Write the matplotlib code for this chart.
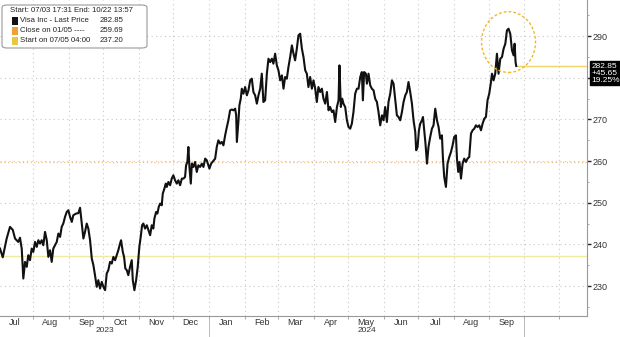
import matplotlib.pyplot as plt
import matplotlib.dates as mdates
from matplotlib.patches import Ellipse, FancyBboxPatch, Rectangle
from matplotlib.transforms import blended_transform_factory
import pandas as pd

plt.rcParams['font.family'] = ['Liberation Sans', 'DejaVu Sans']

# Visa Inc, last price (days since 2023-07-03)
start = pd.Timestamp('2023-07-03')
days = [
    0.0, 2.4, 5.8, 8.7, 11.1, 13.1, 15.9, 17.4, 18.9, 20.3, 21.8, 23.3, 24.6, 26.1, 27.6, 29.0,
    30.5, 32.0, 33.4, 34.8, 36.3, 37.7, 39.2, 40.7, 42.1, 43.6, 45.0, 46.4, 47.9, 49.4, 50.8,
    52.3, 53.7, 55.1, 56.6, 58.1, 59.5, 61.0, 62.5, 63.8, 66.2, 68.2, 69.7, 71.2, 72.6, 74.0,
    75.5, 76.9, 78.4, 79.9, 81.3, 82.7, 84.2, 85.6, 87.1,
    88.6, 90.0, 91.5, 92.9, 94.3, 95.8, 97.3, 98.7, 100.2, 101.6, 103.0, 104.5, 105.4, 106.9,
    108.0, 109.1, 110.4, 111.7, 113.2, 114.7, 115.6, 117.0, 118.5, 119.9, 121.3, 122.5, 123.7,
    124.8, 126.3, 127.8, 129.2, 130.7, 132.1, 133.5, 134.4, 135.9, 137.0, 138.2, 139.4, 140.8,
    141.7, 143.1, 144.3, 145.2, 146.6, 148.1, 149.5, 150.9, 152.4, 153.9, 155.3, 156.8, 158.3,
    159.7, 161.1, 162.0, 163.1, 164.0, 164.9, 166.1, 167.0, 168.4, 169.8, 171.3, 172.7, 174.2,
    175.7, 177.1, 178.6, 180.0, 182.3,
    183.8, 187.3, 188.7, 190.1, 191.6, 193.1, 194.5, 196.0, 197.5, 198.8, 200.3, 201.8, 203.2,
    204.7, 205.6, 206.2, 207.6, 208.4, 209.6, 210.5, 211.9, 213.4, 214.9, 216.3, 217.8, 219.2,
    220.6, 222.1, 223.6, 225.0, 226.5, 227.9, 229.3, 230.8, 232.3, 233.7, 235.2, 236.7, 238.0,
    239.5, 241.0, 242.4, 243.9, 245.4, 246.8, 248.2, 249.7, 251.1, 252.6, 254.1, 255.5, 256.9,
    258.4, 259.8, 261.3, 262.8, 264.2, 265.7, 267.1, 268.5, 270.0, 271.5, 272.9, 274.4, 275.8,
    277.2, 278.7, 280.2, 281.6, 283.1, 284.6, 286.0, 287.4, 288.9, 290.3, 291.8, 293.3, 294.7,
    295.5, 296.7, 297.9, 299.0, 300.5, 302.0, 303.4, 304.9, 306.3, 307.7, 309.2, 310.7, 312.1,
    313.6, 315.0, 315.9, 317.0, 318.5, 319.4, 320.8, 322.3, 323.7, 325.2, 326.6, 328.1, 329.5,
    331.0, 332.5, 333.9, 335.3, 336.8, 338.2, 339.7, 341.2, 342.6, 344.0, 345.5, 346.9, 348.4,
    349.9, 351.3, 352.8, 354.2, 355.6, 357.1, 358.6, 360.0, 361.5, 362.3, 363.5, 364.7, 365.8,
    367.3, 368.2, 369.3, 370.4, 371.7, 373.0, 374.5, 376.0, 377.4, 378.9, 380.4, 381.8, 383.2,
    384.7, 385.6, 386.7, 388.2, 389.6, 391.1, 392.6, 394.0, 395.4, 396.9, 397.8, 398.9, 400.0,
    401.3, 402.7, 404.1, 405.6, 407.0, 408.5, 410.0, 411.4, 412.9, 414.3, 415.7, 417.2, 418.7,
    420.1, 421.6, 423.0, 424.4, 425.9, 427.4, 428.3, 429.7, 431.1, 432.6, 434.0, 435.5, 437.0,
    438.4, 439.9, 441.3, 442.7, 444.2, 445.7, 447.1, 448.0, 448.8, 449.4,
]
price = [
    239.0, 236.9, 241.4, 244.2, 243.5, 241.4, 240.6, 241.6, 239.0, 231.8, 235.8, 234.6, 237.4, 236.2, 239.0, 238.2,
    240.6, 239.4, 241.0, 240.2, 241.0, 239.8, 243.0, 241.0, 237.0, 238.6, 235.8, 239.0, 239.8, 240.6, 242.6,
    241.8, 244.2, 245.0, 246.6, 247.8, 248.2, 246.6, 245.4, 247.0, 247.4, 247.5, 248.8, 245.0, 241.4, 243.0,
    245.0, 243.8, 241.0, 236.6, 235.0, 232.6, 229.8, 231.4, 229.4,
    231.0, 229.8, 229.0, 233.0, 233.8, 235.8, 235.4, 237.0, 236.2, 237.4, 238.6, 240.2, 241.0, 238.2,
    237.0, 234.2, 233.8, 232.6, 234.6, 236.2, 231.4, 229.0, 231.4, 234.6, 239.4, 241.8, 244.6,
    245.0, 243.8, 244.6, 243.4, 242.2, 244.6, 243.8, 246.2, 247.8, 247.4, 249.0, 249.8, 249.4,
    252.2, 253.4, 254.6, 253.8, 255.0, 254.2, 255.8, 256.6, 255.4, 254.6, 255.4, 254.2, 255.8,
    255.8, 256.2, 259.0, 259.8, 263.4, 258.6, 254.6, 259.4, 258.6, 259.8, 257.4, 259.0, 258.6,
    259.4, 258.6, 260.6, 260.2, 258.2,
    259.4, 260.6, 263.4, 265.0, 264.2, 264.6, 263.8, 266.2, 268.2, 269.8, 272.2, 272.4, 272.2,
    272.6, 271.0, 264.6, 269.8, 273.4, 275.0, 277.4, 276.2, 277.8, 275.8, 277.0, 279.4, 279.8,
    276.6, 275.8, 273.8, 275.8, 277.4, 281.0, 274.2, 274.6, 281.0, 284.6, 283.8, 284.6, 283.4,
    285.8, 283.0, 281.8, 279.4, 280.6, 277.4, 280.2, 279.8, 282.6, 285.0, 287.8, 285.8, 284.2,
    287.0, 290.2, 290.6, 287.0, 285.0, 281.8, 281.0, 277.8, 280.2, 277.4, 279.4, 277.4, 274.2,
    277.8, 276.6, 277.4, 275.0, 273.8, 276.6, 272.2, 273.0, 271.8, 272.2, 269.4, 273.0, 274.6,
    283.0, 273.0, 275.0, 273.8, 273.0, 269.8, 268.2, 267.8, 269.0, 271.8, 276.2, 277.4, 277.4,
    280.2, 281.4, 274.6, 281.4, 281.0, 278.6, 281.0, 278.2, 277.4, 277.0, 275.0, 274.2, 271.8,
    268.6, 271.0, 269.8, 273.0, 269.4, 274.2, 276.2, 279.4, 278.6, 275.0, 271.0, 270.6, 269.8,
    271.8, 274.2, 275.8, 276.6, 279.0, 276.6, 273.8, 269.8, 267.0, 262.6, 263.4, 267.4, 269.0,
    269.8, 270.6, 267.4, 264.2, 259.4, 263.4, 265.8, 267.8, 268.6, 272.6, 269.8, 268.2, 265.4,
    266.2, 260.6, 256.2, 253.8, 259.4, 261.0, 262.2, 263.8, 265.8, 266.2, 260.6, 257.4, 259.8,
    255.8, 259.4, 260.6, 259.8, 260.6, 261.0, 266.6, 267.4, 267.8, 268.6, 268.2, 268.6, 267.4,
    269.0, 270.2, 270.6, 274.6, 276.2, 279.0, 281.0, 279.4, 281.0, 285.8, 281.0, 284.6, 285.0,
    287.0, 288.2, 291.4, 291.8, 290.6, 286.6, 285.4, 288.2, 283.8, 282.85,
]
dates = start + pd.to_timedelta(days, unit='D')

last_price = 282.85
close_0105 = 259.69
start_0705 = 237.20
change_abs = '+45.65'
change_pct = '19.25%'

header = 'Start: 07/03 17:31 End: 10/22 13:57'
legend_names = ['Visa Inc - Last Price', 'Close on 01/05 ----', 'Start on 07/05 04:00']
legend_values = [last_price, close_0105, start_0705]
legend_colors = ['#111111', '#f0a030', '#e8c840']

y_ticks = [230, 240, 250, 260, 270, 280, 290]
y_labels = ['230', '240', '250', '260', '270', '', '290']  # 280 sits under the price box
label_months = pd.date_range('2023-07-01', '2024-09-01', freq='MS')
year_breaks = [pd.Timestamp('2024-01-01'), pd.Timestamp('2024-10-01')]

x_left = start
x_right = start + pd.Timedelta(days=511)

fig = plt.figure(figsize=(6.2, 3.37), dpi=100)
ax = fig.add_axes([0.0, 21 / 337, 587 / 620, 316 / 337])

# reference levels
ax.axhline(start_0705, color='#eeeaa0', lw=1.0, zorder=1)
ax.axhline(close_0105, color='#f2bd80', lw=0.9, ls=(0, (1, 2)), zorder=1)
ax.hlines(last_price, dates[-1], x_right, color='#f2d468', lw=1.0, zorder=1)

ax.plot(dates, price, color='#111111', lw=1.5, zorder=3)

# dashed circle around the recent peak
i_max = max(range(len(price)), key=lambda i: price[i])
cx = mdates.date2num(dates[i_max])
ax.add_patch(Ellipse((cx, price[i_max] - 3.2), width=47, height=14.6,
                     fill=False, ec='#f0b828', lw=1.0, ls=(0, (2, 1.5)), zorder=4))

ax.set_xlim(x_left, x_right)
ax.set_ylim(222.8, 298.7)

ax.xaxis.set_major_locator(mdates.MonthLocator())
ax.xaxis.set_major_formatter(plt.NullFormatter())
ax.set_xticks([d + pd.Timedelta(days=15) for d in label_months], minor=True)
ax.set_xticklabels([d.strftime('%b') for d in label_months], minor=True)
ax.tick_params(axis='x', which='major', length=2, color='#999999', width=0.6)
ax.tick_params(axis='x', which='minor', length=0, labelsize=6.5, pad=1.5, labelcolor='#333333')

ax.yaxis.tick_right()
ax.set_yticks(y_ticks)
ax.set_yticklabels(y_labels)
ax.set_yticks(range(225, 296, 5), minor=True)
ax.tick_params(axis='y', which='major', length=3, width=1.0, color='#222222',
               labelsize=6.5, pad=1, labelcolor='#333333')
ax.tick_params(axis='y', which='minor', length=1.5, width=0.6, color='#999999')

ax.grid(True, which='major', color='#c8c8c8', lw=0.8, ls=(0, (1, 3)))
for side in ['left', 'top']:
    ax.spines[side].set_visible(False)
for side in ['right', 'bottom']:
    ax.spines[side].set_color('#999999')
    ax.spines[side].set_linewidth(0.8)

# year labels and dividers under the axis
tr = blended_transform_factory(ax.transData, ax.transAxes)
spans = [x_left] + year_breaks
for a, b, yr in zip(spans[:-1], spans[1:], ['2023', '2024']):
    mid = a + (b - a) / 2
    ax.text(mid, -0.034, yr, transform=tr, ha='center', va='top', fontsize=6, color='#333333')
for d in year_breaks:
    ax.plot([d, d], [-0.01, -0.075], transform=tr, color='#bbbbbb', lw=0.7, clip_on=False)

# last price box on the right axis
ax.annotate(f'{last_price:.2f}\n{change_abs}\n{change_pct}', xy=(1, last_price),
            xycoords=('axes fraction', 'data'), xytext=(3, 2.5), textcoords='offset points',
            ha='left', va='top', fontsize=6, color='white', linespacing=1.05,
            bbox=dict(boxstyle='square,pad=0.15', fc='black', ec='black'),
            annotation_clip=False)

# legend box top-left
W, H = 620, 337
fig.patches.append(FancyBboxPatch((2 / W, 1 - 48 / H), 145 / W, 43 / H,
                                  boxstyle='round,pad=0,rounding_size=0.008',
                                  transform=fig.transFigure, fc='white', ec='#999999', lw=0.8))
fig.text(10 / W, 1 - 11 / H, header, fontsize=5.6, color='#222222', va='center')
for k, (name, val, col) in enumerate(zip(legend_names, legend_values, legend_colors)):
    yc = 1 - (21 + 10 * k) / H
    fig.patches.append(Rectangle((12 / W, yc - 3.5 / H), 6 / W, 7 / H,
                                 transform=fig.transFigure, fc=col, ec='none'))
    fig.text(20 / W, yc, name, fontsize=5.6, color='#222222', va='center')
    fig.text(100 / W, yc, f'{val:.2f}', fontsize=5.6, color='#222222', va='center')

fig.savefig('out.png', dpi=100)
